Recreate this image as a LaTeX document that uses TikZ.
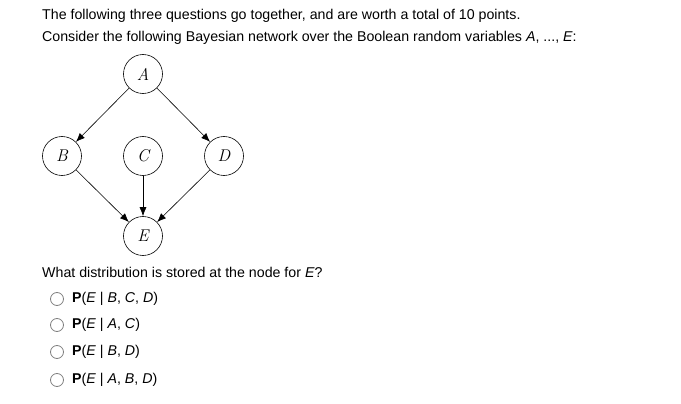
\documentclass[tikz,border=0pt]{standalone}
\usepackage{fontspec}
\setmainfont{Liberation Sans}
\usetikzlibrary{arrows.meta}
\begin{document}
\begin{tikzpicture}[x=1pt,y=-1pt,
  bn/.style={circle,draw,semithick,minimum size=39pt,inner sep=0pt,font=\fontspec{Latin Modern Roman}\fontsize{17}{17}\selectfont\itshape},
  edge/.style={-{Latex[length=9pt,width=7pt]},semithick},
  txt/.style={anchor=west,inner sep=0pt,font=\fontsize{14.2}{16}\selectfont},
  radio/.style={circle,draw=gray,thick,minimum size=13pt,inner sep=0pt}]
\useasboundingbox (0,0) rectangle (681,404);
\node[txt] (l1) at (42,16) {The following three questions go together, and are worth a total of 10 points.};
\node[txt] (l2) at (42,38) {Consider the following Bayesian network over the Boolean random variables \textit{A}, ..., \textit{E}:};
\node[bn] (A) at (143,74) {A};
\node[bn] (B) at (62,156) {B};
\node[bn] (C) at (143,156) {C};
\node[bn] (D) at (224,156) {D};
\node[bn] (E) at (143,236) {E};
\draw[edge] (A) -- (B);
\draw[edge] (A) -- (D);
\draw[edge] (B) -- (E);
\draw[edge] (C) -- (E);
\draw[edge] (D) -- (E);
\node[txt] (q) at (42,272) {What distribution is stored at the node for \textit{E}?};
\foreach \y/\t [count=\i] in {299/{\textit{B}, \textit{C}, \textit{D}},325/{\textit{A}, \textit{C}},352/{\textit{B}, \textit{D}},380/{\textit{A}, \textit{B}, \textit{D}}}{
  \node[radio] (r\i) at (57,\y) {};
  \node[txt] (o\i) at (72,\y) {\textbf{P}(\textit{E} | \t)};
}
\end{tikzpicture}
\end{document}
